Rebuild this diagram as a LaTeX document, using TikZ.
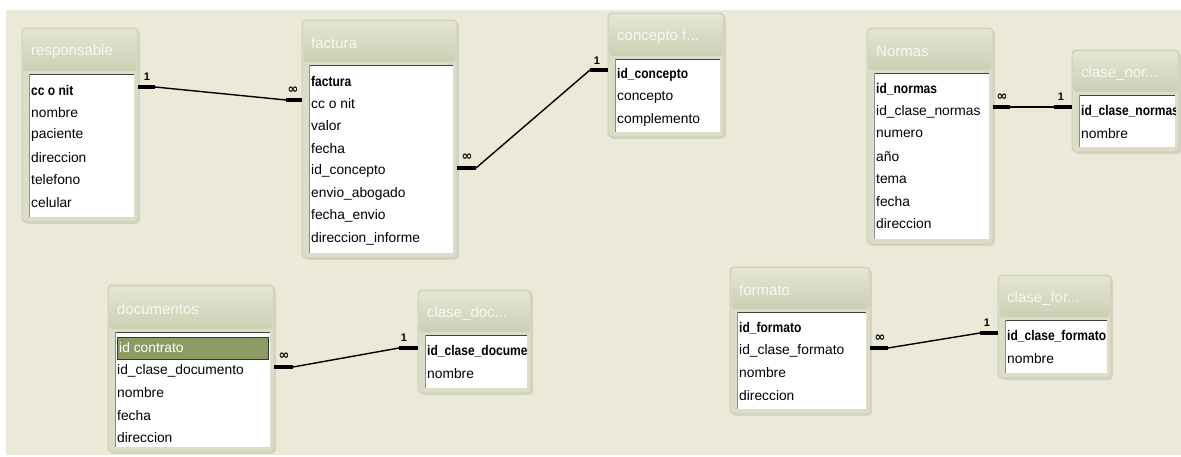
\documentclass[tikz,border=0pt]{standalone}
\usepackage{fontspec}
\setmainfont{Liberation Sans}
\newfontfamily\symf{DejaVu Sans}
\newfontfamily\keyf[FakeStretch=0.86]{Liberation Sans}
\definecolor{bgc}{HTML}{ECE9D8}
\definecolor{framec}{HTML}{DADDC8}
\definecolor{frameline}{HTML}{C9CDB2}
\definecolor{titletop}{HTML}{E3E6D3}
\definecolor{titlebot}{HTML}{CBD0B4}
\definecolor{titletxt}{HTML}{F7F8F1}
\definecolor{hlc}{HTML}{8C9B64}
\definecolor{shadowc}{HTML}{D6D3C2}
\tikzset{
 x=1pt,y=-1pt,
 tframe/.style={fill=framec,draw=frameline,line width=0.8pt,rounded corners=4pt},
 ttitle/.style={anchor=west,inner sep=0pt,text=titletxt,font=\fontsize{15}{15}\selectfont},
 trow/.style={anchor=west,inner sep=0pt,font=\fontsize{13.8}{14}\selectfont},
 tkey/.style={trow,font=\fontsize{14}{14}\keyf\bfseries},
 rel/.style={line width=1.4pt},
 relend/.style={line width=4pt},
 card/.style={inner sep=0pt,font=\fontsize{11}{11}\selectfont\bfseries},
 manycard/.style={inner sep=0pt,font=\fontsize{13}{13}\symf\bfseries},
}
\newcommand\hlrow[1]{\setlength{\fboxrule}{1pt}\setlength{\fboxsep}{0pt}\fcolorbox{black!80}{hlc}{\parbox[c][21pt][c]{150pt}{\hspace{1pt}\textcolor{white}{\rmfamily\mdseries\fontsize{13.8}{14}\selectfont #1}}}}
\newcommand\DbTable[9]{%
 \fill[shadowc,rounded corners=4pt] (#2+2,#3+2) rectangle (#4+2,#5+2);
 \path[tframe] (#2,#3) rectangle (#4,#5);
 \shade[top color=titletop,bottom color=titlebot,rounded corners=3pt] (#2+1.5,#3+1.5) rectangle (#4-1.5,#6-3);
 \node[ttitle] (#1-title) at (#2+9,{(#3+#6)/2+1}) {#7};
 \fill[white] (#2+7,#6) rectangle (#4-4,#5-5);
 \draw[black!75,line width=1pt] (#2+7,#6+0.5) -- (#4-4,#6+0.5);
 \draw[black!45,line width=0.6pt] (#2+7.3,#6) -- (#2+7.3,#5-5);
 \begin{scope}
 \clip (#2+7,#6) rectangle (#4-4,#5-5);
 \node[tkey] (#1-0) at (#2+9,#6+16) {#8};
 \foreach \t [count=\i] in {#9} {\node[trow] (#1-\i) at (#2+9,#6+16+22.5*\i) {\t};}
 \end{scope}
}
\begin{document}
\begin{tikzpicture}
\useasboundingbox (0,0) rectangle (1181,457);
\fill[white] (0,0) rectangle (1181,457);
\fill[bgc] (6,10) rectangle (1181,455);

\DbTable{resp}{22}{28}{138}{222}{74}{responsable}{cc o nit}{nombre,paciente,direccion,telefono,celular}
\DbTable{fact}{302}{20}{457}{258}{65}{factura}{factura}{cc o nit,valor,fecha,id\_concepto,envio\_abogado,fecha\_envio,direccion\_informe}
\DbTable{conc}{608}{13}{724}{137}{59}{concepto f...}{id\_concepto}{concepto,complemento}
\DbTable{norm}{867}{28}{993}{244}{73}{Normas}{id\_normas}{id\_clase\_normas,numero,año,tema,fecha,direccion}
\DbTable{cnor}{1072}{50}{1179}{152}{95}{clase\_nor...}{id\_clase\_normas}{nombre}
\DbTable{docu}{108}{285}{274}{452}{332}{documentos}{\hlrow{id contrato}}{id\_clase\_documento,nombre,fecha,direccion}
\DbTable{cdoc}{418}{290}{531}{393}{335}{clase\_doc...}{id\_clase\_documento}{nombre}
\DbTable{form}{730}{267}{870}{414}{312}{formato}{id\_formato}{id\_clase\_formato,nombre,direccion}
\DbTable{cfor}{998}{275}{1111}{378}{320}{clase\_for...}{id\_clase\_formato}{nombre}

% responsable - factura
\coordinate (r1a) at (138,87); \coordinate (r1b) at (155,87);
\coordinate (r1c) at (286,100); \coordinate (r1d) at (302,100);
\draw[relend] (r1a) -- (r1b); \draw[rel] (r1b) -- (r1c); \draw[relend] (r1c) -- (r1d);
\node[card] (r1one) at (147,77) {1};
\node[manycard] (r1many) at (293,90) {∞};

% factura - concepto
\coordinate (r2a) at (457,168); \coordinate (r2b) at (476,168);
\coordinate (r2c) at (590,70); \coordinate (r2d) at (608,70);
\draw[relend] (r2a) -- (r2b); \draw[rel] (r2b) -- (r2c); \draw[relend] (r2c) -- (r2d);
\node[manycard] (r2many) at (467,157) {∞};
\node[card] (r2one) at (597,61) {1};

% Normas - clase_normas
\coordinate (r3a) at (993,107); \coordinate (r3b) at (1010,107);
\coordinate (r3c) at (1054,107); \coordinate (r3d) at (1072,107);
\draw[relend] (r3a) -- (r3b); \draw[rel] (r3b) -- (r3c); \draw[relend] (r3c) -- (r3d);
\node[manycard] (r3many) at (1002,97) {∞};
\node[card] (r3one) at (1061,97) {1};

% documentos - clase_doc
\coordinate (r4a) at (274,367); \coordinate (r4b) at (293,367);
\coordinate (r4c) at (399,348); \coordinate (r4d) at (418,348);
\draw[relend] (r4a) -- (r4b); \draw[rel] (r4b) -- (r4c); \draw[relend] (r4c) -- (r4d);
\node[manycard] (r4many) at (284,356) {∞};
\node[card] (r4one) at (404,338) {1};

% formato - clase_formato
\coordinate (r5a) at (870,348); \coordinate (r5b) at (888,348);
\coordinate (r5c) at (980,333); \coordinate (r5d) at (998,333);
\draw[relend] (r5a) -- (r5b); \draw[rel] (r5b) -- (r5c); \draw[relend] (r5c) -- (r5d);
\node[manycard] (r5many) at (880,338) {∞};
\node[card] (r5one) at (987,323) {1};
\end{tikzpicture}
\end{document}
